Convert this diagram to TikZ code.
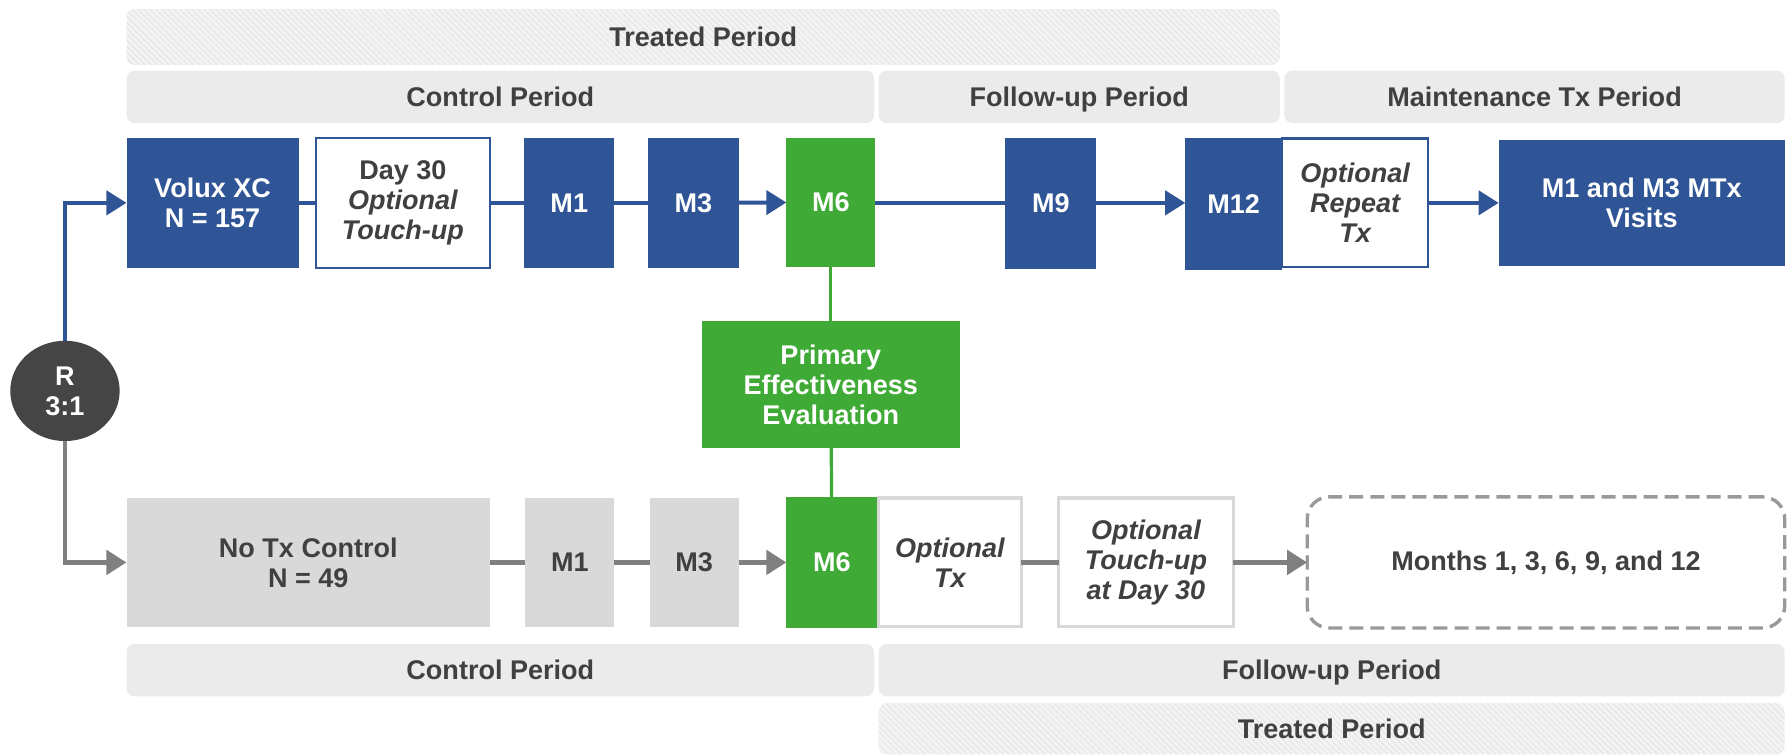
\documentclass[tikz,border=0pt]{standalone}
\usepackage{fontspec}
\setmainfont{Liberation Sans}
\usetikzlibrary{arrows.meta,patterns,shapes.geometric}

\definecolor{tblue}{HTML}{2F5597}
\definecolor{tgreen}{HTML}{3FAA35}
\definecolor{tgrey}{HTML}{D9D9D9}
\definecolor{tband}{HTML}{EBEBEB}
\definecolor{ttext}{HTML}{404040}
\definecolor{tline}{HTML}{808080}
\definecolor{tdark}{HTML}{454545}

\tikzset{
  wh/.style 2 args={minimum width=#1*0.02cm, minimum height=#2*0.02cm},
  box/.style={rectangle, align=center, font=\fontsize{13.5}{15}\selectfont\bfseries},
  bluebox/.style={box, fill=tblue, text=white},
  greenbox/.style={box, fill=tgreen, text=white},
  greybox/.style={box, fill=tgrey, text=ttext},
  optbox/.style={box, fill=white, draw=tblue, line width=1.1pt, text=ttext},
  optgrey/.style={box, fill=white, draw=tgrey, line width=1.6pt, text=ttext},
  band/.style={box, fill=tband, rounded corners=4pt, text=ttext, text height=9.7pt, text depth=0pt},
  hatchband/.style={band, fill=tband!60!white, postaction={pattern=north west lines, pattern color=gray!22}},
  blueline/.style={draw=tblue, line width=2pt},
  greyline/.style={draw=tline, line width=2.4pt},
  greenline/.style={draw=tgreen, line width=1.6pt},
  arrowed/.style={-{Triangle[length=10pt,width=12pt]}}
}

\begin{document}
\begin{tikzpicture}[x=0.02cm, y=-0.02cm, inner sep=0, outer sep=0]
  \useasboundingbox (0,0) rectangle (1568,662);

  % period bands
  \node[hatchband, wh={1012}{49}] (treatedtop) at (617,32.5) {Treated Period};
  \node[band, wh={656}{46}] (ctrltop) at (439,85) {Control Period};
  \node[band, wh={352}{46}] (futop) at (947,85) {Follow-up Period};
  \node[band, wh={439}{46}] (mtxtop) at (1346.5,85) {Maintenance Tx Period};
  \node[band, wh={656}{46}] (ctrlbot) at (439,588) {Control Period};
  \node[band, wh={795}{46}] (fubot) at (1168.5,588) {Follow-up Period};
  \node[hatchband, wh={795}{45}] (treatedbot) at (1168.5,639.5) {Treated Period};

  % treated arm
  \node[bluebox, wh={151}{114}] (volux) at (186.5,178) {Volux XC\\N = 157};
  \node[optbox, wh={153}{114}] (day30) at (353.5,178) {Day 30\\\itshape Optional\\\itshape Touch-up};
  \node[bluebox, wh={79}{114}] (m1top) at (499.5,178) {M1};
  \node[bluebox, wh={79}{114}] (m3top) at (608.5,178) {M3};
  \node[greenbox, wh={78}{113}] (m6top) at (729,177.5) {M6};
  \node[bluebox, wh={80}{115}] (m9) at (922,178.5) {M9};
  \node[bluebox, wh={85}{116}] (m12) at (1082.5,179) {M12};
  \node[optbox, wh={128}{113}] (repeat) at (1189,178) {\itshape Optional\\\itshape Repeat\\\itshape Tx};
  \node[bluebox, wh={251}{111}] (mtx) at (1440.5,178) {M1 and M3 MTx\\Visits};

  \node[greenbox, wh={226}{111}] (pee) at (729,337.5) {Primary\\Effectiveness\\Evaluation};

  \node[ellipse, fill=tdark, text=white, align=center, wh={96}{88},
    font=\fontsize{13.5}{15}\selectfont\bfseries] (rand) at (57,343) {R\\3:1};

  % control arm
  \node[greybox, wh={319}{113}] (notx) at (270.5,493.5) {No Tx Control\\N = 49};
  \node[greybox, wh={78}{113}] (m1bot) at (500,493.5) {M1};
  \node[greybox, wh={78}{113}] (m3bot) at (609,493.5) {M3};
  \node[greenbox, wh={80}{115}] (m6bot) at (730,493.5) {M6};
  \node[optgrey, wh={125}{113}] (opttx) at (833.5,493.5) {\itshape Optional\\\itshape Tx};
  \node[optgrey, wh={153}{113}] (touchup) at (1005.5,493.5) {\itshape Optional\\\itshape Touch-up\\\itshape at Day 30};
  \node[box, draw=tline!80, dash pattern=on 7pt off 3.5pt, line width=1.7pt,
    rounded corners=11pt, text=ttext, wh={419}{115}] (months) at (1356.5,493.5) {Months 1, 3, 6, 9, and 12};

  \draw[blueline, arrowed] (rand.north) |- (volux.west);
  \draw[blueline] (volux) -- (day30);
  \draw[blueline] (day30) -- (m1top);
  \draw[blueline] (m1top) -- (m3top);
  \draw[blueline, arrowed] (m3top) -- (m6top);
  \draw[blueline] (m6top.east |- volux.east) -- (m9.west |- volux.west);
  \draw[blueline, arrowed] (m9.east |- volux.east) -- (m12.west |- volux.west);
  \draw[blueline, arrowed] (repeat) -- (mtx);

  \draw[greenline] (m6top) -- (pee);
  \draw[greenline] (pee) -- (m6bot);

  \draw[greyline, arrowed] (rand.south) |- (notx.west);
  \draw[greyline] (notx) -- (m1bot);
  \draw[greyline] (m1bot) -- (m3bot);
  \draw[greyline, arrowed] (m3bot) -- (m6bot);
  \draw[greyline] (opttx) -- (touchup);
  \draw[greyline, arrowed] (touchup) -- (months);
\end{tikzpicture}
\end{document}
